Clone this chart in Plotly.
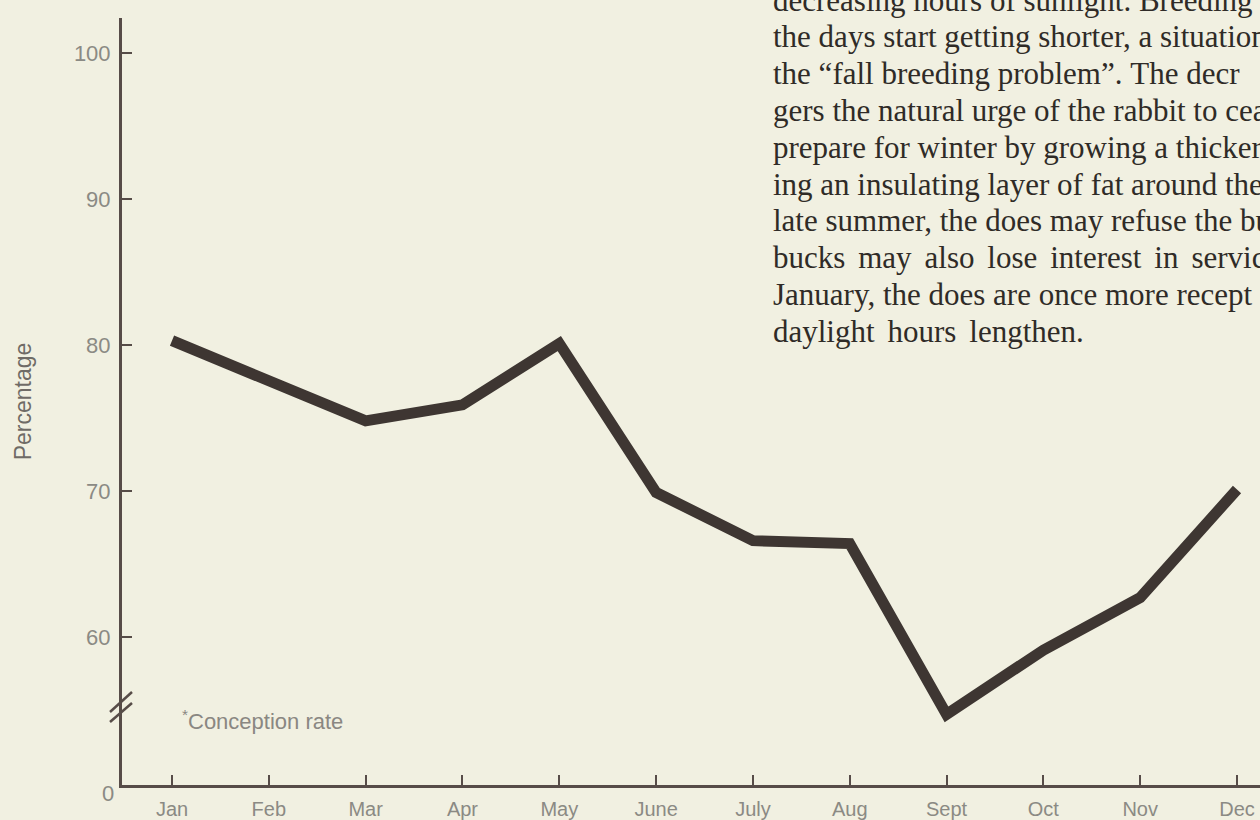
import plotly.graph_objects as go

months = ["Jan", "Feb", "Mar", "Apr", "May", "June", "July", "Aug", "Sept", "Oct", "Nov", "Dec"]
conception_rate = [80.3, 77.6, 74.8, 75.9, 80.1, 69.9, 66.6, 66.4, 54.7, 59.1, 62.7, 70.1]
ytick_vals = [60, 70, 80, 90, 100]
ytick_text = ["60", "70", "80", "90", "100"]

WS = "\u00a0\u2006"  # widened (justified) word space
body_lines = [
    "decreasing hours of sunlight. Breeding",
    "the days start getting shorter, a situation",
    "the \u201cfall breeding problem\u201d.\u00a0The\u00a0decr",
    "gers the natural urge of the rabbit to cea",
    "prepare for winter by growing a thicker",
    "ing an insulating layer of fat around the",
    "late summer, the does may refuse the bu",
    WS.join(["bucks", "may", "also", "lose", "interest", "in", "servic"]),
    "January, the does are once more recept",
    WS.join(["daylight", "hours", "lengthen."]),
]

BG = "#f1f0e1"
AXIS = "#574c48"
LINE = "#3e3632"
TICKC = "#8b8a84"

fig = go.Figure()
fig.add_trace(go.Scatter(
    x=months, y=conception_rate, mode="lines",
    line=dict(color=LINE, width=11),
    hoverinfo="skip", showlegend=False,
))

W, H = 1260, 820
ml, mr, mt, mb = 122, 0, 18, 35
px_per_cat = 96.8
x_lo = -(172 - 122) / px_per_cat
x_hi = 11 + (1260 - 1237) / px_per_cat
px_per_unit = 14.6
y_lo = 60 - (785 - 637) / px_per_unit
y_hi = 100 + (53 - 18) / px_per_unit

fig.update_layout(
    width=W, height=H,
    margin=dict(l=ml, r=mr, t=mt, b=mb),
    paper_bgcolor=BG, plot_bgcolor=BG,
    font=dict(family="Liberation Sans, Arial, sans-serif", color=TICKC),
    xaxis=dict(
        type="category", range=[x_lo, x_hi],
        showgrid=False, zeroline=False,
        showline=True, linecolor=AXIS, linewidth=3,
        ticks="inside", ticklen=10, tickwidth=2, tickcolor=AXIS,
        tickfont=dict(size=20, color=TICKC),
        ticklabelstandoff=4,
    ),
    yaxis=dict(
        range=[y_lo, y_hi],
        showgrid=False, zeroline=False,
        showline=True, linecolor=AXIS, linewidth=3,
        ticks="inside", ticklen=10, tickwidth=2, tickcolor=AXIS,
        tickvals=ytick_vals, ticktext=ytick_text,
        tickfont=dict(size=22, color=TICKC),
        ticklabelstandoff=4,
        title=dict(text="Percentage", font=dict(size=23, color="#6f6b66"), standoff=36),
    ),
)

# axis break marks
for yb0, yb1 in [(y_lo + (785 - 712) / px_per_unit, y_lo + (785 - 692) / px_per_unit),
                 (y_lo + (785 - 722) / px_per_unit, y_lo + (785 - 703) / px_per_unit)]:
    fig.add_shape(type="line", xref="x domain", yref="y",
                  xsizemode="pixel", xanchor=0, x0=-12, x1=10,
                  y0=yb0, y1=yb1, line=dict(color=AXIS, width=2.5))

# zero label at bottom of broken axis
fig.add_annotation(xref="paper", yref="paper", x=0, y=0, xshift=-14, yshift=-8,
                   text="0", showarrow=False, xanchor="center", yanchor="middle",
                   font=dict(size=22, color=TICKC))

# footnote
fig.add_annotation(xref="paper", yref="paper", x=0, y=0, xshift=58, yshift=65,
                   text="<sup>*</sup>Conception rate", showarrow=False,
                   xanchor="left", yanchor="middle",
                   font=dict(size=22, color="#8a8782"))

# body text (book page)
line_h = 36.8
first_center = -3
for i, t in enumerate(body_lines):
    yc = first_center + i * line_h
    fig.add_annotation(xref="paper", yref="paper", x=0, y=1,
                       xshift=771 - ml, yshift=mt - yc - 3,
                       text=t, showarrow=False, xanchor="left", yanchor="middle",
                       font=dict(family="Liberation Serif, Times New Roman, serif",
                                 size=31, color="#2f2b27"))

fig.write_html("out.html",
               config={"displayModeBar": False},
               post_script="document.body.style.margin='0';document.body.style.overflow='hidden';")
